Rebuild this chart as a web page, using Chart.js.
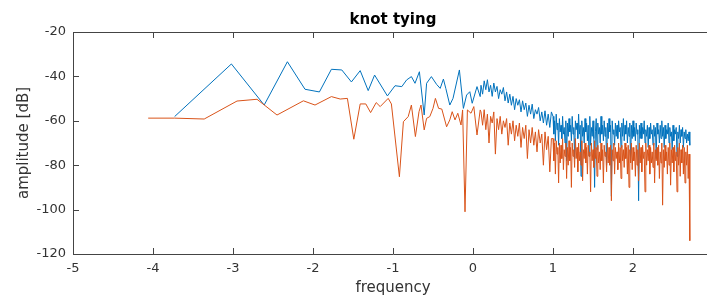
<!DOCTYPE html>
<html>
<head>
<meta charset="utf-8">
<script src="https://cdn.jsdelivr.net/npm/chart.js@4.4.1/dist/chart.umd.min.js"></script>
<style>
  html, body { margin: 0; padding: 0; background: #fff; overflow: hidden; }
  #wrap { width: 707px; height: 297px; overflow: hidden; }
  canvas { display: block; }
</style>
</head>
<body>
<div id="wrap"><canvas id="spectrum" width="720" height="297"></canvas></div>
<script>
// log10 frequency vs amplitude
const blueX = [-3.73, -3.02, -2.61, -2.32, -2.10, -1.92, -1.77, -1.64, -1.52, -1.41, -1.31, -1.23, -1.07,
  -0.975, -0.89, -0.83, -0.77, -0.725, -0.67, -0.61, -0.58, -0.52, -0.455, -0.41, -0.37, -0.34, -0.29,
  -0.25, -0.17, -0.12, -0.08, -0.04, -0.01, 0.05, 0.09];
const blueY = [-58.1, -34.4, -52.9, -33.4, -45.8, -47.0, -36.8, -37.1, -42.5, -37.4, -46.4, -39.4, -48.8,
  -44.2, -44.6, -41.6, -40.1, -43.1, -37.9, -57.4, -43.1, -40.1, -43.6, -45.4, -41.2, -45.4, -52.9,
  -49.9, -37.1, -54.4, -48.4, -46.9, -52.1, -44.6, -49.1];

const orangeX = [-4.06, -3.73, -3.36, -2.95, -2.70, -2.45, -2.12, -1.975, -1.77, -1.66, -1.57, -1.49, -1.41,
  -1.34, -1.28, -1.21, -1.16, -1.06, -1.02, -0.92, -0.87, -0.81, -0.77, -0.72, -0.675, -0.65, -0.61,
  -0.58, -0.54, -0.50, -0.47, -0.43, -0.39, -0.33, -0.29, -0.26, -0.225, -0.19, -0.15, -0.13, -0.10,
  -0.07, -0.025, 0.01, 0.05, 0.09];
const orangeY = [-58.8, -58.8, -59.2, -51.1, -50.3, -57.4, -51.0, -52.9, -49.1, -50.2, -49.9, -68.3, -52.4,
  -52.4, -56.3, -51.8, -53.6, -49.9, -52.4, -85.2, -60.4, -58.1, -52.9, -67.1, -55.9, -52.9, -64.1,
  -58.9, -58.1, -54.4, -49.9, -54.4, -54.7, -62.7, -59.6, -55.9, -59.6, -56.6, -61.9, -55.1, -101,
  -55.1, -56.6, -53.6, -66.4, -55.1];

// dense part of the spectrum
const midX = [0.10, 0.12, 0.14, 0.16, 0.18, 0.20, 0.22, 0.24, 0.26, 0.28, 0.30, 0.32, 0.34, 0.36, 0.38,
  0.40, 0.42, 0.44, 0.46, 0.48, 0.50, 0.52, 0.54, 0.56, 0.58, 0.60, 0.62, 0.64, 0.66, 0.68, 0.70, 0.72,
  0.74, 0.76, 0.78, 0.80, 0.82, 0.84, 0.86, 0.88, 0.90, 0.92, 0.94, 0.96, 0.98];
const midBlue = [-44, -48, -42, -46, -41.5, -47, -44, -49, -43, -47, -44.5, -50, -46, -48, -45,
  -51, -47, -52, -48, -53, -49, -55, -50, -53, -50.5, -56, -51, -55, -52, -58, -53, -57,
  -52.5, -59, -55, -57, -54, -60, -56, -61, -55.5, -62, -57, -63, -56];
const midOrange = [-56, -62, -55, -64, -57, -70, -58, -61, -56, -75, -59, -64, -58, -66, -60,
  -63, -59, -71, -61, -66, -60, -69, -62, -67, -61, -72, -63, -68, -62, -77, -64, -70,
  -63, -71, -65, -74, -64, -70, -66, -80, -65, -73, -67, -83, -68];

const highX = [
  1.00, 1.01, 1.02, 1.03, 1.04, 1.05, 1.06, 1.07, 1.08, 1.09,
  1.10, 1.11, 1.12, 1.13, 1.14, 1.15, 1.16, 1.17, 1.18, 1.19,
  1.20, 1.21, 1.22, 1.23, 1.24, 1.25, 1.26, 1.27, 1.28, 1.29,
  1.30, 1.31, 1.32, 1.33, 1.34, 1.35, 1.36, 1.37, 1.38, 1.39,
  1.40, 1.41, 1.42, 1.43, 1.44, 1.45, 1.46, 1.47, 1.48, 1.49,
  1.50, 1.51, 1.52, 1.53, 1.54, 1.55, 1.56, 1.57, 1.58, 1.59,
  1.60, 1.61, 1.62, 1.63, 1.64, 1.65, 1.66, 1.67, 1.68, 1.69,
  1.70, 1.71, 1.72, 1.73, 1.74, 1.75, 1.76, 1.77, 1.78, 1.79,
  1.80, 1.81, 1.82, 1.83, 1.84, 1.85, 1.86, 1.87, 1.88, 1.89,
  1.90, 1.91, 1.92, 1.93, 1.94, 1.95, 1.96, 1.97, 1.98, 1.99,
  2.00, 2.01, 2.02, 2.03, 2.04, 2.05, 2.06, 2.07, 2.08, 2.09,
  2.10, 2.11, 2.12, 2.13, 2.14, 2.15, 2.16, 2.17, 2.18, 2.19,
  2.20, 2.21, 2.22, 2.23, 2.24, 2.25, 2.26, 2.27, 2.28, 2.29,
  2.30, 2.31, 2.32, 2.33, 2.34, 2.35, 2.36, 2.37, 2.38, 2.39,
  2.40, 2.41, 2.42, 2.43, 2.44, 2.45, 2.46, 2.47, 2.48, 2.49,
  2.50, 2.51, 2.52, 2.53, 2.54, 2.55, 2.56, 2.57, 2.58, 2.59,
  2.60, 2.61, 2.62, 2.63, 2.64, 2.65, 2.66, 2.67, 2.68, 2.69,
  2.70, 2.71];
const highBlue = [
  -58, -66, -60, -69, -57, -64, -61, -71, -59, -65,
  -62, -68, -58, -66, -63, -70, -60, -78, -61, -67,
  -59, -65, -62, -69, -58, -66, -63, -77, -60, -64,
  -61, -68, -57, -66, -62, -85, -60, -67, -63, -70,
  -59, -65, -61, -69, -62, -76, -58, -71, -63, -67,
  -60, -68, -90, -65, -59, -73, -61, -66, -63, -70,
  -58, -66, -62, -69, -60, -67, -63, -80, -61, -68,
  -59, -65, -62, -94, -60, -66, -64, -71, -61, -67,
  -62, -68, -60, -65, -63, -72, -61, -67, -59, -69,
  -62, -66, -60, -70, -63, -67, -61, -79, -62, -68,
  -60, -67, -63, -69, -61, -66, -64, -96, -62, -68,
  -61, -68, -63, -66, -60, -70, -64, -67, -62, -72,
  -63, -68, -61, -66, -64, -71, -62, -67, -63, -77,
  -61, -66, -64, -70, -62, -68, -60, -67, -63, -72,
  -62, -68, -64, -66, -61, -70, -63, -67, -65, -73,
  -62, -69, -64, -66, -63, -76, -65, -68, -62, -70,
  -64, -67, -63, -72, -65, -68, -64, -70, -66, -69,
  -65, -71];
const highOrange = [
  -68, -78, -70, -84, -69, -75, -72, -88, -70, -79,
  -71, -77, -68, -82, -73, -76, -70, -86, -72, -80,
  -69, -78, -72, -90, -70, -76, -73, -81, -68, -77,
  -72, -83, -70, -78, -74, -80, -69, -87, -73, -77,
  -70, -79, -72, -84, -71, -76, -74, -92, -70, -78,
  -73, -81, -69, -77, -72, -85, -71, -79, -74, -82,
  -70, -78, -73, -88, -71, -76, -74, -83, -70, -79,
  -72, -80, -71, -96, -73, -78, -70, -84, -72, -77,
  -74, -82, -70, -79, -72, -86, -71, -78, -73, -81,
  -70, -77, -72, -84, -71, -90, -73, -79, -70, -82,
  -72, -78, -74, -85, -71, -80, -73, -87, -70, -79,
  -72, -83, -71, -77, -74, -92, -70, -80, -73, -78,
  -71, -84, -72, -79, -74, -81, -70, -88, -73, -78,
  -72, -80, -71, -86, -74, -79, -70, -98, -73, -81,
  -71, -78, -74, -84, -72, -80, -70, -89, -73, -79,
  -72, -83, -71, -78, -74, -92, -72, -80, -70, -85,
  -73, -79, -71, -84, -72, -88, -74, -80, -71, -86,
  -75, -114];

const xTicks = [-5, -4, -3, -2, -1, 0, 1, 2, 3];
const yTicks = [-120, -100, -80, -60, -40, -20];

function pts(xs, ys) {
  return xs.map((x, i) => ({ x: x, y: ys[i] }));
}

// matlab style box with ticks pointing inwards
const boxPlugin = {
  id: 'box',
  afterDatasetsDraw(chart) {
    const { ctx, chartArea: a, scales } = chart;
    const tick = 6;
    ctx.save();
    ctx.strokeStyle = '#444';
    ctx.lineWidth = 1;
    ctx.beginPath();
    ctx.rect(a.left + 0.5, a.top + 0.5, a.right - a.left, a.bottom - a.top);
    xTicks.forEach(v => {
      const px = Math.round(scales.x.getPixelForValue(v)) + 0.5;
      ctx.moveTo(px, a.bottom);
      ctx.lineTo(px, a.bottom - tick);
      ctx.moveTo(px, a.top);
      ctx.lineTo(px, a.top + tick);
    });
    yTicks.forEach(v => {
      const py = Math.round(scales.y.getPixelForValue(v)) + 0.5;
      ctx.moveTo(a.left, py);
      ctx.lineTo(a.left + tick, py);
      ctx.moveTo(a.right, py);
      ctx.lineTo(a.right - tick, py);
    });
    ctx.stroke();
    ctx.restore();
  }
};

const font = 'DejaVu Sans';

new Chart(document.getElementById('spectrum').getContext('2d'), {
  type: 'line',
  data: {
    datasets: [
      {
        label: 'blue',
        data: pts(blueX, blueY).concat(pts(midX, midBlue), pts(highX, highBlue)),
        borderColor: '#0072BD',
        borderWidth: 1,
        pointRadius: 0,
        tension: 0,
        order: 1
      },
      {
        label: 'orange',
        data: pts(orangeX, orangeY).concat(pts(midX, midOrange), pts(highX, highOrange)),
        borderColor: '#D95319',
        borderWidth: 1,
        pointRadius: 0,
        tension: 0,
        order: 0
      }
    ]
  },
  options: {
    responsive: false,
    animation: false,
    layout: { padding: { right: 7 } },
    plugins: {
      legend: { display: false },
      tooltip: { enabled: false },
      title: {
        display: true,
        text: 'knot tying',
        fullSize: false,
        color: '#000',
        font: { family: font, size: 15, weight: 'bold' },
        padding: { top: 11, bottom: 3 }
      }
    },
    scales: {
      x: {
        type: 'linear',
        min: -5,
        max: 3,
        afterBuildTicks: s => { s.ticks = xTicks.map(v => ({ value: v })); },
        ticks: {
          autoSkip: false,
          maxRotation: 0,
          padding: 7,
          color: '#333',
          font: { family: font, size: 13 },
          // the 3 sits past the right edge of the picture
          callback: v => (v === 3 ? '' : String(v))
        },
        grid: { display: false, drawTicks: false },
        border: { display: false },
        title: {
          display: true,
          text: 'frequency',
          color: '#333',
          font: { family: font, size: 15 },
          padding: { top: 0, bottom: 0 }
        },
        afterFit: s => { s.height = 43; }
      },
      y: {
        type: 'linear',
        min: -120,
        max: -20,
        afterBuildTicks: s => { s.ticks = yTicks.map(v => ({ value: v })); },
        ticks: { padding: 7, color: '#333', font: { family: font, size: 13 } },
        grid: { display: false, drawTicks: false },
        border: { display: false },
        title: {
          display: true,
          text: 'amplitude [dB]',
          color: '#333',
          font: { family: font, size: 15 },
          padding: { top: 15, bottom: 0 }
        },
        afterFit: s => { s.width = 73; }
      }
    }
  },
  plugins: [boxPlugin]
});
</script>
</body>
</html>
